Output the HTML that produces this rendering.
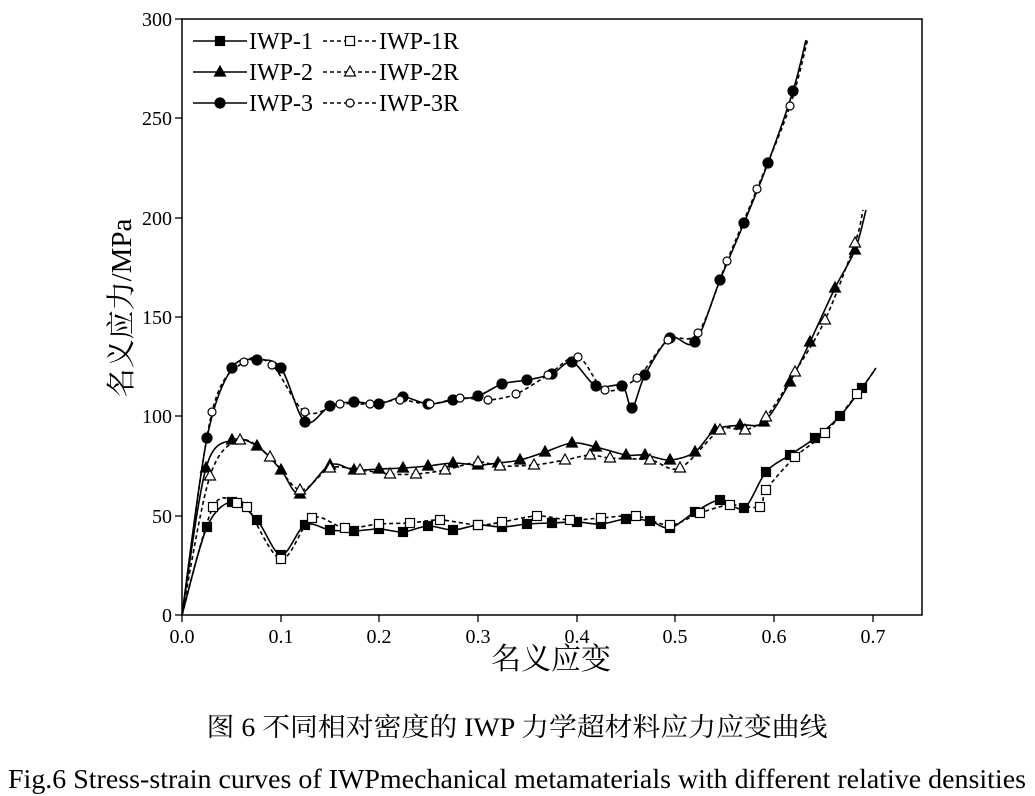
<!DOCTYPE html>
<html><head><meta charset="utf-8"><style>
body{margin:0;background:#fff;}
svg{display:block;font-family:"Liberation Serif","Noto Serif CJK SC",serif;}
</style></head><body>
<svg id="s" width="1035" height="796" viewBox="0 0 1035 796" xmlns="http://www.w3.org/2000/svg">
<rect x="182" y="19" width="740" height="596" fill="none" stroke="#000" stroke-width="1.5"/>
<g stroke="#000" stroke-width="1.3">
<line x1="182" y1="615" x2="182" y2="622"/><line x1="281" y1="615" x2="281" y2="622"/><line x1="379" y1="615" x2="379" y2="622"/><line x1="478" y1="615" x2="478" y2="622"/><line x1="577" y1="615" x2="577" y2="622"/><line x1="675" y1="615" x2="675" y2="622"/><line x1="774" y1="615" x2="774" y2="622"/><line x1="873" y1="615" x2="873" y2="622"/>
<line x1="175" y1="615" x2="182" y2="615"/><line x1="175" y1="516" x2="182" y2="516"/><line x1="175" y1="416" x2="182" y2="416"/><line x1="175" y1="317" x2="182" y2="317"/><line x1="175" y1="218" x2="182" y2="218"/><line x1="175" y1="118" x2="182" y2="118"/><line x1="175" y1="19" x2="182" y2="19"/>
</g>
<g font-size="20" text-anchor="middle">
<text x="182" y="643">0.0</text><text x="281" y="643">0.1</text><text x="379" y="643">0.2</text><text x="478" y="643">0.3</text><text x="577" y="643">0.4</text><text x="675" y="643">0.5</text><text x="774" y="643">0.6</text><text x="873" y="643">0.7</text>
</g>
<g font-size="20" text-anchor="end">
<text x="172" y="622">0</text><text x="172" y="523">50</text><text x="172" y="423">100</text><text x="172" y="324">150</text><text x="172" y="225">200</text><text x="172" y="125">250</text><text x="172" y="26">300</text>
</g>
<text x="551" y="669" font-size="30" text-anchor="middle">名义应变</text>
<text transform="translate(131,308) rotate(-90)" font-size="29" text-anchor="middle">名义应力/MPa</text>
<text x="517" y="736" font-size="26" text-anchor="middle" textLength="621" lengthAdjust="spacingAndGlyphs">图 6 不同相对密度的 IWP 力学超材料应力应变曲线</text>
<text x="517" y="788" font-size="27" text-anchor="middle" textLength="1018" lengthAdjust="spacingAndGlyphs">Fig.6 Stress-strain curves of IWPmechanical metamaterials with different relative densities</text>
<g id="curves" fill="none" stroke="#000" stroke-width="1.6"></g>
<g font-size="24">
<text x="249" y="49">IWP-1</text><text x="379" y="49">IWP-1R</text>
<text x="249" y="80">IWP-2</text><text x="379" y="80">IWP-2R</text>
<text x="249" y="111">IWP-3</text><text x="379" y="111">IWP-3R</text>
</g>
<g id="leg"></g>
</svg>
<script>
var NS="http://www.w3.org/2000/svg";
function el(p,t,a){var e=document.createElementNS(NS,t);for(var k in a)e.setAttribute(k,a[k]);p.appendChild(e);return e;}
function smooth(pts){var d="M"+pts[0][0]+","+pts[0][1];for(var i=0;i<pts.length-1;i++){var p0=pts[i-1]||pts[i],p1=pts[i],p2=pts[i+1],p3=pts[i+2]||p2;var t=0.16;d+=" C"+(p1[0]+(p2[0]-p0[0])*t)+","+(p1[1]+(p2[1]-p0[1])*t)+" "+(p2[0]-(p3[0]-p1[0])*t)+","+(p2[1]-(p3[1]-p1[1])*t)+" "+p2[0]+","+p2[1];}return d;}
function marker(g,type,fill,x,y){var f=fill?"#000":"#fff";
 if(type=="s")el(g,"rect",{x:x-4.5,y:y-4.5,width:9,height:9,fill:f,stroke:"#000","stroke-width":1.2});
 if(type=="t")el(g,"polygon",{points:(x)+","+(y-6)+" "+(x-5.5)+","+(y+4)+" "+(x+5.5)+","+(y+4),fill:f,stroke:"#000","stroke-width":1.2});
 if(type=="c")el(g,"circle",{cx:x,cy:y,r:fill?5:4,fill:f,stroke:"#000","stroke-width":1.2});}
var S=[
{t:"s",f:1,p:[[182,615],[207,527],[232,502],[257,520],[281,555],[305,525],[330,530],[354,531],[379,529],[403,532],[428,526],[453,530],[478,525],[502,527],[527,524],[552,523],[577,522],[601,524],[626,519],[650,521],[670,528],[695,512],[720,500],[744,508],[766,472],[790,455],[815,438],[840,416],[862,388],[876,368]]},
{t:"s",f:0,p:[[182,615],[213,507],[237,503],[247,507],[281,559],[312,518],[345,528],[379,524],[410,523],[440,520],[478,525],[502,522],[537,516],[570,520],[601,518],[636,516],[670,525],[700,513],[730,505],[760,507],[766,490],[795,457],[825,433],[857,394],[875,370]]},
{t:"t",f:1,p:[[182,615],[206,468],[232,440],[257,446],[281,470],[300,494],[330,465],[354,470],[379,469],[403,468],[428,466],[453,463],[478,465],[498,463],[520,460],[545,452],[572,443],[596,447],[626,455],[645,455],[670,460],[695,452],[715,430],[740,425],[764,422],[790,382],[810,342],[835,288],[855,250],[866,210]]},
{t:"t",f:0,p:[[182,615],[210,476],[240,440],[270,457],[300,490],[330,468],[360,470],[390,474],[416,474],[445,470],[478,462],[500,466],[534,465],[565,460],[590,455],[610,458],[650,460],[680,468],[720,430],[745,430],[766,417],[795,372],[825,320],[855,243],[863,210]]},
{t:"c",f:1,p:[[182,615],[207,438],[232,368],[257,360],[281,368],[305,422],[330,406],[354,402],[379,404],[403,397],[428,404],[453,400],[478,396],[502,384],[527,380],[552,374],[572,362],[596,386],[622,386],[632,408],[645,375],[670,338],[695,342],[720,280],[744,223],[768,163],[793,91],[806,40]]},
{t:"c",f:0,p:[[182,615],[212,412],[244,362],[272,365],[305,412],[340,404],[370,404],[400,400],[430,404],[460,398],[488,400],[516,394],[548,375],[578,357],[605,390],[637,378],[668,340],[698,333],[727,261],[757,189],[790,106],[808,38]]}];
var g=document.getElementById("curves");
S.forEach(function(s){var a={d:smooth(s.p)};if(!s.f)a["stroke-dasharray"]="4,3";el(g,"path",a);
 s.p.forEach(function(q,i){if(i>0&&i<s.p.length-1&&q[1]>30)marker(g,s.t,s.f,q[0],q[1]);});});
var L=document.getElementById("leg");
[["s",41],["t",72],["c",103]].forEach(function(r){
 el(L,"line",{x1:193,y1:r[1],x2:247,y2:r[1],stroke:"#000","stroke-width":1.6});marker(L,r[0],1,220,r[1]);
 el(L,"line",{x1:323,y1:r[1],x2:377,y2:r[1],stroke:"#000","stroke-width":1.6,"stroke-dasharray":"4,3"});marker(L,r[0],0,350,r[1]);});
</script>
</body></html>
